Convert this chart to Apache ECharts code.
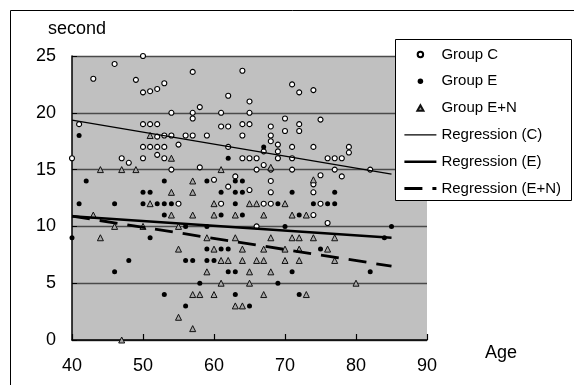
<!doctype html>
<html>
<head>
    <meta charset="UTF-8">
    <title>second vs Age</title>
    <script src="https://cdn.jsdelivr.net/npm/echarts@6/dist/echarts.min.js"></script>
    <style>
        html, body { margin: 0; padding: 0; background: #fff; }
    </style>
</head>
<body>
<div id="main" style="width: 574px;height:385px;"></div>
<script>
    // [age, second]
    var groupC = [
        [40, 16], [41, 19], [43, 23], [46, 24.3], [47, 16], [48, 15.6], [49, 22.9],
        [50, 25], [50, 21.8], [50, 19], [50, 17], [50, 16], [51, 21.9], [51, 19], [51, 17],
        [52, 22.1], [52, 19], [52, 17.9], [52, 17], [52, 16.3], [53, 22.6], [53, 18], [53, 17], [53, 16],
        [54, 20], [54, 18], [54, 15], [55, 17.2], [55, 12], [56, 18], [57, 23.6], [57, 20], [57, 19.5], [57, 18],
        [58, 20.5], [58, 15.2], [59, 18], [60, 14.1], [61, 20], [61, 18.8], [61, 12],
        [62, 21.5], [62, 18.8], [62, 17], [62, 13.5], [63, 14.4], [64, 23.7], [64, 19], [64, 18], [64, 16],
        [65, 21], [65, 20], [65, 19], [65, 16], [65, 13.2], [66, 16], [66, 15], [66, 10],
        [67, 16.6], [67, 15.4], [67, 12], [68, 18.8], [68, 18], [68, 17.5], [68, 15], [68, 14], [68, 13], [68, 12],
        [69, 17.2], [69, 16.6], [69, 16], [70, 19.5], [70, 18.4], [71, 22.5], [71, 17], [71, 16], [71, 15],
        [72, 21.8], [72, 19], [72, 18.4], [74, 22], [74, 17], [74, 13.7], [74, 13], [74, 11],
        [75, 19.4], [75, 14.5], [75, 12], [76, 16], [76, 10.3], [77, 16], [77, 15], [78, 16], [78, 14.4],
        [79, 17], [79, 16.5], [82, 15]
    ];
    var groupE = [
        [40, 9], [41, 18], [41, 12], [42, 14], [46, 12], [46, 6], [48, 7], [50, 13], [50, 12], [51, 13], [51, 9],
        [52, 12], [53, 14], [53, 12], [53, 11], [53, 4], [54, 12], [56, 10], [56, 7], [56, 3], [57, 7], [58, 5],
        [59, 14], [59, 10], [59, 8], [59, 7], [60, 7], [61, 13], [61, 11], [61, 8], [62, 16], [62, 8], [62, 6],
        [63, 14], [63, 13], [63, 12], [63, 6], [63, 4], [64, 14], [64, 13], [64, 11], [65, 3], [67, 17],
        [69, 12], [69, 5], [70, 10], [71, 13], [71, 6], [72, 11], [72, 4], [74, 12], [75, 8], [76, 12],
        [77, 13], [77, 12], [82, 6], [84, 9], [85, 10]
    ];
    var groupEN = [
        [43, 11], [44, 15], [44, 9], [46, 10], [47, 15], [47, 0], [49, 15], [50, 10], [51, 18], [51, 12],
        [54, 16], [54, 13], [54, 11], [55, 10], [55, 8], [55, 2], [57, 14], [57, 13], [57, 11], [57, 4], [57, 1],
        [58, 4], [59, 9], [59, 6], [60, 12], [60, 11], [60, 8], [60, 4], [61, 15], [61, 7], [61, 5], [62, 7],
        [63, 11], [63, 9], [63, 3], [64, 8], [64, 7], [64, 3], [65, 12], [65, 6], [65, 5], [66, 12], [66, 7],
        [67, 11], [67, 8], [67, 7], [67, 4], [68, 15.2], [68, 9], [68, 6], [70, 12], [70, 8], [70, 7],
        [71, 11], [71, 9], [72, 9], [72, 8], [72, 7], [73, 11], [73, 4], [74, 14.1], [74, 9],
        [76, 8], [77, 9], [77, 7], [80, 5]
    ];

    // regression end points
    var regAge = [40, 85];
    var regC = [19.35, 14.6];
    var regE = [10.9, 9.0];
    var regEN = [10.9, 6.5];

    var xTicks = [40, 90, 10];
    var yTicks = [0, 25, 5];

    var pairs = function (xs, ys) {
        return xs.map(function (x, i) { return [x, ys[i]]; });
    };

    var font = 'Liberation Sans, Arial, sans-serif';
    var myChart = echarts.init(document.getElementById('main'));

    var noDot = {opacity: 0};
    var lineC = {color: '#000', width: 1.3};
    var lineE = {color: '#000', width: 2.6};
    var lineEN = {color: '#000', width: 2.8, type: [18, 10]};

    var option = {
        animation: false,
        textStyle: {fontFamily: font},
        grid: {
            left: 72, right: 147, top: 56, bottom: 45,
            show: true, backgroundColor: '#c0c0c0', borderWidth: 0
        },
        xAxis: {
            type: 'value',
            min: xTicks[0], max: xTicks[1], interval: xTicks[2],
            axisLine: {lineStyle: {color: '#000', width: 1.5}},
            axisTick: {inside: true, length: 6, lineStyle: {color: '#000', width: 1.2}},
            axisLabel: {fontSize: 18, color: '#000', margin: 17},
            splitLine: {show: false}
        },
        yAxis: {
            type: 'value',
            min: yTicks[0], max: yTicks[1], interval: yTicks[2],
            axisLine: {show: true, lineStyle: {color: '#000', width: 1.5}},
            axisTick: {show: true, inside: true, length: 5, lineStyle: {color: '#000'}},
            axisLabel: {fontSize: 18, color: '#000', margin: 16},
            splitLine: {lineStyle: {color: '#4a4a4a', width: 1.3}}
        },
        legend: {
            orient: 'vertical',
            left: 403, top: 47,
            z: 10,
            padding: 0,
            itemWidth: 32, itemHeight: 5.5,
            itemGap: 11.8,
            textStyle: {fontSize: 15, color: '#000', lineHeight: 15, fontFamily: font},
            data: [
                'Group C',
                'Group E',
                {name: 'Group E+N', icon: 'path://M5,0L10,9L0,9Z'},
                {name: 'Regression (C)', itemStyle: noDot, lineStyle: lineC},
                {name: 'Regression (E)', itemStyle: noDot, lineStyle: lineE},
                {name: 'Regression (E+N)', itemStyle: noDot, lineStyle: lineEN}
            ]
        },
        graphic: [
            {type: 'rect', z: -10, silent: true,
                shape: {x: 10.5, y: 10.5, width: 800, height: 800},
                style: {fill: 'none', stroke: '#000', lineWidth: 1}},
            {type: 'rect', z: 3, silent: true,
                shape: {x: 395.5, y: 39.5, width: 176, height: 161},
                style: {fill: '#fff', stroke: '#000', lineWidth: 1}},
            {type: 'text', z: 3, x: 48, y: 29,
                style: {text: 'second', font: '18px ' + font, fill: '#000', verticalAlign: 'middle'}},
            {type: 'text', z: 3, x: 485, y: 353,
                style: {text: 'Age', font: '18px ' + font, fill: '#000', verticalAlign: 'middle'}}
        ],
        series: [
            {
                name: 'Group C', type: 'scatter', symbol: 'circle', symbolSize: 5,
                itemStyle: {color: '#fff', borderColor: '#000', borderWidth: 1.1, opacity: 1},
                data: groupC
            },
            {
                name: 'Group E', type: 'scatter', symbol: 'circle', symbolSize: 5,
                itemStyle: {color: '#000', opacity: 1},
                data: groupE
            },
            {
                name: 'Group E+N', type: 'scatter', symbol: 'triangle', symbolSize: 6,
                itemStyle: {color: '#a8a8a8', borderColor: '#111', borderWidth: 1, opacity: 1},
                data: groupEN
            },
            {
                name: 'Regression (C)', type: 'line', symbol: 'none', color: '#000',
                lineStyle: lineC,
                data: pairs(regAge, regC)
            },
            {
                name: 'Regression (E)', type: 'line', symbol: 'none', color: '#000',
                lineStyle: lineE,
                data: pairs(regAge, regE)
            },
            {
                name: 'Regression (E+N)', type: 'line', symbol: 'none', color: '#000',
                lineStyle: lineEN,
                data: pairs(regAge, regEN)
            }
        ]
    };

    myChart.setOption(option);
</script>
</body>
</html>
